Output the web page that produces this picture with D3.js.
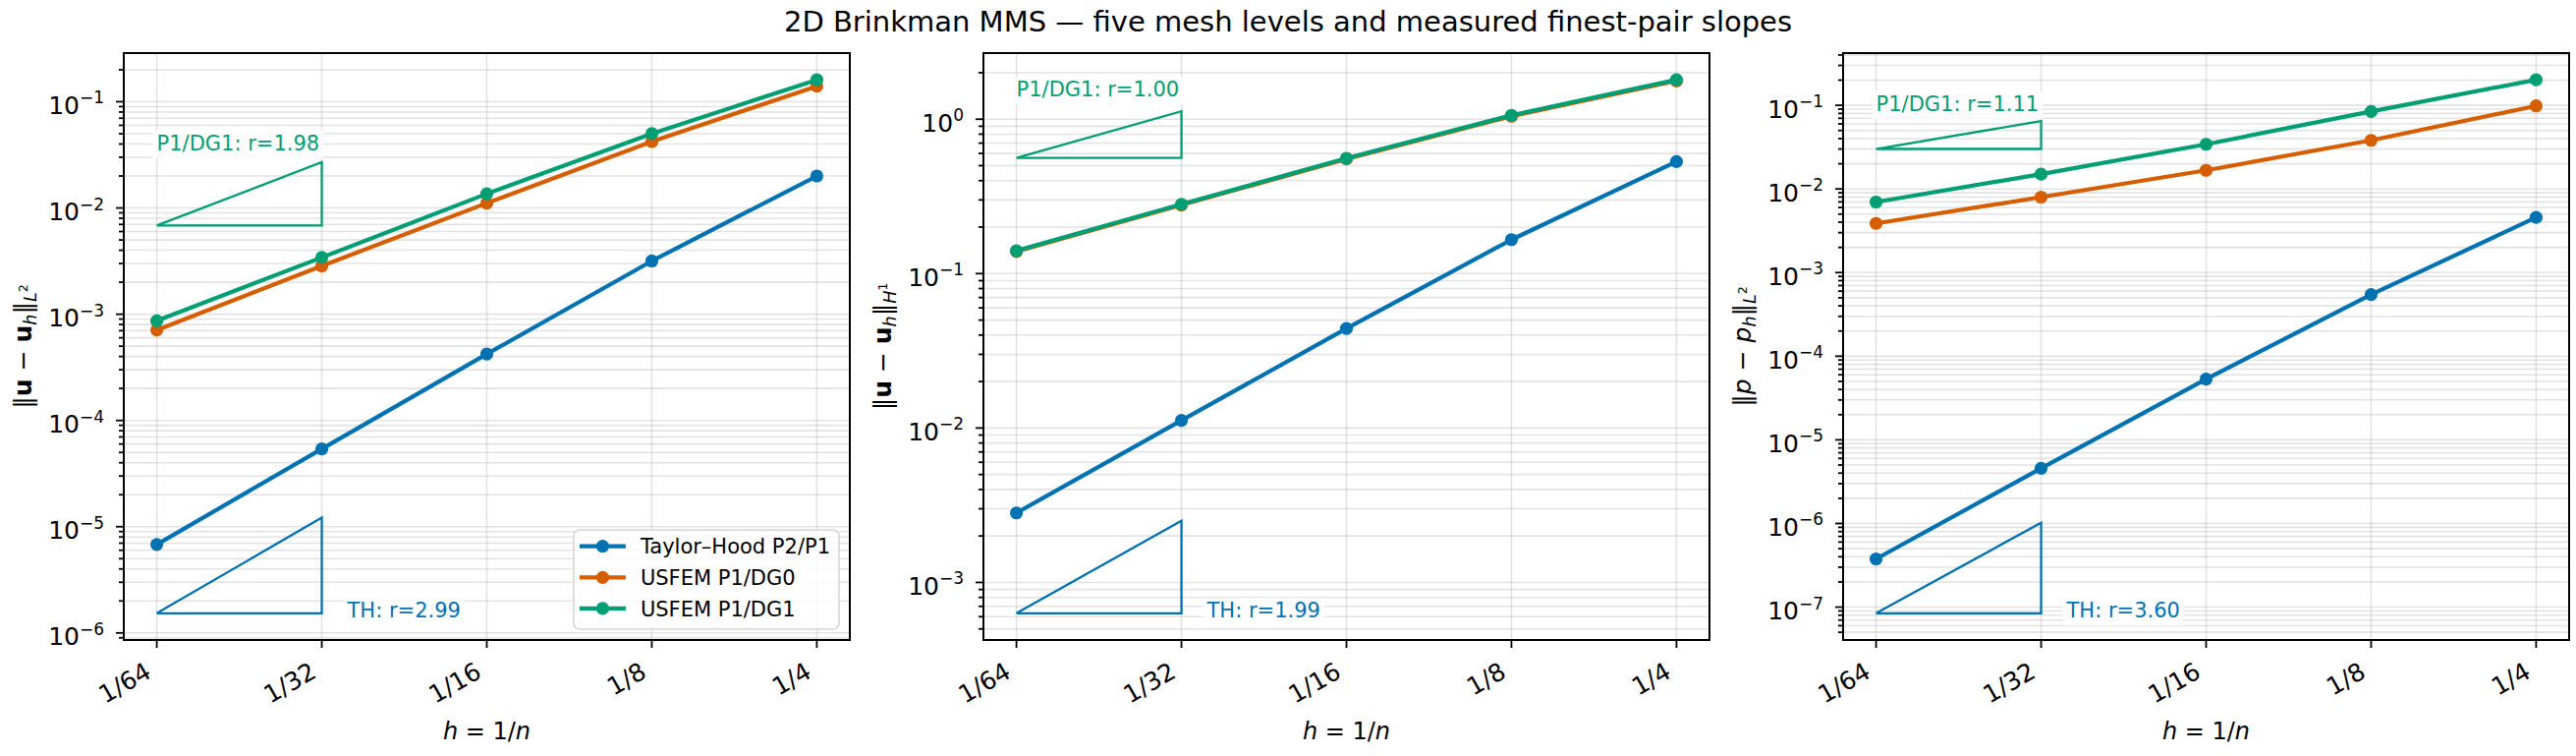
<!DOCTYPE html>
<html>
<head>
<meta charset="utf-8">
<script src="https://cdn.jsdelivr.net/npm/d3@7"></script>
<style>
  body { margin: 0; background: #fff; }
  text { font-family: "DejaVu Sans", sans-serif; fill: #000; }
</style>
</head>
<body>
<svg id="fig" width="2622" height="769"></svg>
<script>
// mesh sizes and labels
var hVals = [1 / 64, 1 / 32, 1 / 16, 1 / 8, 1 / 4];
var hLabels = ['1/64', '1/32', '1/16', '1/8', '1/4'];

var seriesNames = ['Taylor\u2013Hood P2/P1', 'USFEM P1/DG0', 'USFEM P1/DG1'];
var seriesColors = ['#0072B2', '#D55E00', '#009E73'];

// velocity L2 error
var velL2TH = [6.8e-6, 5.4e-5, 4.22e-4, 3.17e-3, 2.0e-2];
var velL2DG0 = [7.1e-4, 2.85e-3, 1.11e-2, 4.22e-2, 0.140];
var velL2DG1 = [8.67e-4, 3.42e-3, 1.36e-2, 5.01e-2, 0.161];

// velocity H1 error
var velH1TH = [2.82e-3, 1.12e-2, 4.41e-2, 0.166, 0.531];
var velH1DG0 = [0.139, 0.278, 0.553, 1.045, 1.77];
var velH1DG1 = [0.1405, 0.281, 0.558, 1.06, 1.80];

// pressure L2 error
var presL2TH = [3.77e-7, 4.57e-6, 5.32e-5, 5.47e-4, 4.56e-3];
var presL2DG0 = [3.87e-3, 7.98e-3, 1.67e-2, 3.81e-2, 0.0984];
var presL2DG1 = [6.97e-3, 1.503e-2, 3.42e-2, 8.44e-2, 0.202];

// slope triangle anchors (bottom edge value) for TH
var thTriangleBase = [1.53e-6, 6.31e-4, 8.43e-8];

var title = '2D Brinkman MMS \u2014 five mesh levels and measured finest-pair slopes';

var panels = [
	{ series: [velL2TH, velL2DG0, velL2DG1], sym: 'u', norm: 'L', normSup: '2', legend: true },
	{ series: [velH1TH, velH1DG0, velH1DG1], sym: 'u', norm: 'H', normSup: '1', legend: false },
	{ series: [presL2TH, presL2DG0, presL2DG1], sym: 'p', norm: 'L', normSup: '2', legend: false }
];

// layout
var W = 2622,
	panelLeft = [126, 1001, 1876],
	panelW = 739,
	panelTop = 54,
	panelBottom = 651,
	tickFont = 25,
	smallFont = 21,
	markR = 6.6,
	gridColor = 'rgba(176,176,176,0.35)';

var svg = d3.select( '#fig' );

svg.append( 'rect' ).attr( 'width', W ).attr( 'height', 769 ).attr( 'fill', '#fff' );

svg.append( 'text' )
	.attr( 'x', W / 2 )
	.attr( 'y', 31.5 )
	.attr( 'text-anchor', 'middle' )
	.style( 'font-size', '29px' )
	.text( title );

function log2( _v ) { return Math.log( _v ) / Math.LN2; }
function slope( _s ) { return log2( _s[ 1 ] / _s[ 0 ] ); }

panels.forEach( function( _p, _i ) {
	var x0 = panelLeft[ _i ],
		x1 = x0 + panelW,
		g = svg.append( 'g' );

	var rTH = slope( _p.series[ 0 ] ),
		rDG1 = slope( _p.series[ 2 ] );

	// slope triangles: [h0,h1] x [base, base*2^r]
	var triTH = { base: thTriangleBase[ _i ], r: rTH, color: seriesColors[ 0 ] };
	triTH.top = triTH.base * Math.pow( 2, rTH );
	var triDG = { base: 2 * _p.series[ 2 ][ 1 ], r: rDG1, color: seriesColors[ 2 ] };
	triDG.top = triDG.base * Math.pow( 2, rDG1 );

	// x scale with 5% margins in log space
	var lx0 = log2( d3.min( hVals ) ), lx1 = log2( d3.max( hVals ) ), px = 0.05 * ( lx1 - lx0 );
	var x = d3.scaleLog().base( 2 )
		.domain( [ Math.pow( 2, lx0 - px ), Math.pow( 2, lx1 + px ) ] )
		.range( [ x0, x1 ] );

	var allY = d3.merge( _p.series ).concat( [ triTH.base, triTH.top, triDG.base, triDG.top ] );
	var ly0 = Math.log10( d3.min( allY ) ), ly1 = Math.log10( d3.max( allY ) ), py = 0.05 * ( ly1 - ly0 );
	var y = d3.scaleLog()
		.domain( [ Math.pow( 10, ly0 - py ), Math.pow( 10, ly1 + py ) ] )
		.range( [ panelBottom, panelTop ] );

	// major / minor y ticks
	var major = [], minor = [];
	for ( var k = Math.floor( ly0 - py ) - 1; k <= Math.ceil( ly1 + py ) + 1; k++ ) {
		var base = Math.pow( 10, k );
		if ( base >= y.domain()[ 0 ] && base <= y.domain()[ 1 ] ) major.push( k );
		for ( var m = 2; m < 10; m++ ) {
			var v = m * base;
			if ( v >= y.domain()[ 0 ] && v <= y.domain()[ 1 ] ) minor.push( v );
		}
	}

	// grid
	var grid = g.append( 'g' ).attr( 'stroke', gridColor ).attr( 'stroke-width', 1.6 );
	grid.selectAll( 'line.gy' )
		.data( minor.concat( major.map( function( _k ) { return Math.pow( 10, _k ); } ) ) )
		.enter().append( 'line' )
		.attr( 'x1', x0 ).attr( 'x2', x1 )
		.attr( 'y1', function( _d ) { return y( _d ); } )
		.attr( 'y2', function( _d ) { return y( _d ); } );
	grid.selectAll( 'line.gx' )
		.data( hVals )
		.enter().append( 'line' )
		.attr( 'y1', panelTop ).attr( 'y2', panelBottom )
		.attr( 'x1', function( _d ) { return x( _d ); } )
		.attr( 'x2', function( _d ) { return x( _d ); } );

	// triangles
	[ triTH, triDG ].forEach( function( _t ) {
		var pts = [ [ hVals[ 0 ], _t.base ], [ hVals[ 1 ], _t.base ], [ hVals[ 1 ], _t.top ], [ hVals[ 0 ], _t.base ] ];
		g.append( 'path' )
			.attr( 'd', d3.line().x( function( _d ) { return x( _d[ 0 ] ); } ).y( function( _d ) { return y( _d[ 1 ] ); } )( pts ) )
			.attr( 'fill', 'none' )
			.attr( 'stroke', _t.color )
			.attr( 'stroke-width', 2.3 );
	} );

	// series
	var line = d3.line()
		.x( function( _d, _j ) { return x( hVals[ _j ] ); } )
		.y( function( _d ) { return y( _d ); } );

	_p.series.forEach( function( _s, _j ) {
		g.append( 'path' )
			.attr( 'd', line( _s ) )
			.attr( 'fill', 'none' )
			.attr( 'stroke', seriesColors[ _j ] )
			.attr( 'stroke-width', 4.2 )
			.attr( 'stroke-linejoin', 'round' );
		g.selectAll( 'circle.s' + _j )
			.data( _s )
			.enter().append( 'circle' )
			.attr( 'cx', function( _d, _k ) { return x( hVals[ _k ] ); } )
			.attr( 'cy', function( _d ) { return y( _d ); } )
			.attr( 'r', markR )
			.attr( 'fill', seriesColors[ _j ] );
	} );

	// slope labels with white boxes
	function boxedLabel( _tx, _ty, _txt, _color ) {
		var lg = g.append( 'g' );
		var bg = lg.append( 'rect' ).attr( 'fill', '#fff' ).attr( 'fill-opacity', 0.85 );
		var t = lg.append( 'text' )
			.attr( 'x', _tx ).attr( 'y', _ty )
			.style( 'font-size', smallFont + 'px' )
			.style( 'fill', _color )
			.text( _txt );
		var w = t.node().getComputedTextLength();
		bg.attr( 'x', _tx - 4 ).attr( 'y', _ty - 20 ).attr( 'width', w + 8 ).attr( 'height', 28 );
	}
	boxedLabel( x( hVals[ 0 ] ), y( triDG.top * 1.17 ) - 4.5, 'P1/DG1: r=' + rDG1.toFixed( 2 ), seriesColors[ 2 ] );
	boxedLabel( x( hVals[ 1 ] ) + 26, y( triTH.base ) + 4.5, 'TH: r=' + rTH.toFixed( 2 ), seriesColors[ 0 ] );

	// legend
	if ( _p.legend ) {
		var lg = g.append( 'g' );
		var box = lg.append( 'rect' )
			.attr( 'fill', '#fff' ).attr( 'fill-opacity', 0.8 )
			.attr( 'stroke', '#d6d6d6' ).attr( 'stroke-width', 1.6 )
			.attr( 'rx', 6 ).attr( 'ry', 6 );
		var rowH = 31.6, maxW = 0;
		var rows = lg.selectAll( 'g.row' ).data( seriesNames ).enter().append( 'g' );
		rows.append( 'text' )
			.attr( 'x', 68 )
			.attr( 'y', function( _d, _j ) { return 24.3 + _j * rowH; } )
			.style( 'font-size', smallFont + 'px' )
			.text( function( _d ) { return _d; } )
			.each( function() { maxW = Math.max( maxW, this.getComputedTextLength() ); } );
		rows.append( 'line' )
			.attr( 'x1', 6 ).attr( 'x2', 53 )
			.attr( 'y1', function( _d, _j ) { return 16.7 + _j * rowH; } )
			.attr( 'y2', function( _d, _j ) { return 16.7 + _j * rowH; } )
			.attr( 'stroke', function( _d, _j ) { return seriesColors[ _j ]; } )
			.attr( 'stroke-width', 4.2 );
		rows.append( 'circle' )
			.attr( 'cx', 29.5 )
			.attr( 'cy', function( _d, _j ) { return 16.7 + _j * rowH; } )
			.attr( 'r', markR )
			.attr( 'fill', function( _d, _j ) { return seriesColors[ _j ]; } );
		var bw = 68 + maxW + 9, bh = 101;
		box.attr( 'width', bw ).attr( 'height', bh );
		lg.attr( 'transform', 'translate(' + ( x1 - 11 - bw ) + ',' + ( panelBottom - 11 - bh ) + ')' );
	}

	// spines
	g.append( 'rect' )
		.attr( 'x', x0 ).attr( 'y', panelTop )
		.attr( 'width', panelW ).attr( 'height', panelBottom - panelTop )
		.attr( 'fill', 'none' ).attr( 'stroke', '#000' ).attr( 'stroke-width', 2 );

	// y ticks
	var ticks = g.append( 'g' ).attr( 'stroke', '#000' ).attr( 'stroke-width', 1.8 );
	ticks.selectAll( 'line.maj' ).data( major ).enter().append( 'line' )
		.attr( 'x1', x0 - 8 ).attr( 'x2', x0 )
		.attr( 'y1', function( _k ) { return y( Math.pow( 10, _k ) ); } )
		.attr( 'y2', function( _k ) { return y( Math.pow( 10, _k ) ); } );
	ticks.selectAll( 'line.min' ).data( minor ).enter().append( 'line' )
		.attr( 'x1', x0 - 5 ).attr( 'x2', x0 )
		.attr( 'y1', function( _d ) { return y( _d ); } )
		.attr( 'y2', function( _d ) { return y( _d ); } );
	ticks.selectAll( 'line.xt' ).data( hVals ).enter().append( 'line' )
		.attr( 'y1', panelBottom ).attr( 'y2', panelBottom + 8 )
		.attr( 'x1', function( _d ) { return x( _d ); } )
		.attr( 'x2', function( _d ) { return x( _d ); } );

	var yl = g.selectAll( 'text.yt' ).data( major ).enter().append( 'text' )
		.attr( 'x', x0 - 20 )
		.attr( 'y', function( _k ) { return y( Math.pow( 10, _k ) ) + 12.5; } )
		.attr( 'text-anchor', 'end' )
		.style( 'font-size', tickFont + 'px' );
	yl.append( 'tspan' ).text( '10' );
	yl.append( 'tspan' )
		.attr( 'dy', -10.5 )
		.style( 'font-size', '17px' )
		.text( function( _k ) { return ( _k < 0 ? '\u2212' + ( -_k ) : String( _k ) ); } );

	g.selectAll( 'text.xt' ).data( hVals ).enter().append( 'text' )
		.attr( 'transform', function( _d ) { return 'translate(' + ( x( _d ) - 4 ) + ',688) rotate(-30)'; } )
		.attr( 'text-anchor', 'end' )
		.style( 'font-size', tickFont + 'px' )
		.text( function( _d, _j ) { return hLabels[ _j ]; } );

	// x label: h = 1/n
	var xl = g.append( 'text' )
		.attr( 'x', ( x0 + x1 ) / 2 )
		.attr( 'y', 752 )
		.attr( 'text-anchor', 'middle' )
		.style( 'font-size', '24px' );
	xl.append( 'tspan' ).style( 'font-style', 'italic' ).text( 'h' );
	xl.append( 'tspan' ).text( ' = 1/' );
	xl.append( 'tspan' ).style( 'font-style', 'italic' ).text( 'n' );

	// y label: ||sym - sym_h||_{norm^sup}
	var bold = _p.sym === 'u';
	var ylab = g.append( 'text' )
		.attr( 'transform', 'translate(' + ( x0 - 94 ) + ',' + ( ( panelTop + panelBottom ) / 2 ) + ') rotate(-90)' )
		.attr( 'text-anchor', 'middle' )
		.style( 'font-size', '25px' );
	ylab.append( 'tspan' ).text( '\u2016' );
	ylab.append( 'tspan' ).style( 'font-weight', bold ? 'bold' : 'normal' ).style( 'font-style', bold ? 'normal' : 'italic' ).text( _p.sym );
	ylab.append( 'tspan' ).text( ' \u2212 ' );
	ylab.append( 'tspan' ).style( 'font-weight', bold ? 'bold' : 'normal' ).style( 'font-style', bold ? 'normal' : 'italic' ).text( _p.sym );
	ylab.append( 'tspan' ).attr( 'dy', 5 ).style( 'font-size', '17.5px' ).style( 'font-style', 'italic' ).text( 'h' );
	ylab.append( 'tspan' ).attr( 'dy', -5 ).text( '\u2016' );
	ylab.append( 'tspan' ).attr( 'dy', 5 ).style( 'font-size', '17.5px' ).style( 'font-style', 'italic' ).text( _p.norm );
	ylab.append( 'tspan' ).attr( 'dy', -9 ).style( 'font-size', '12.5px' ).text( _p.normSup );
} );
</script>
</body>
</html>
